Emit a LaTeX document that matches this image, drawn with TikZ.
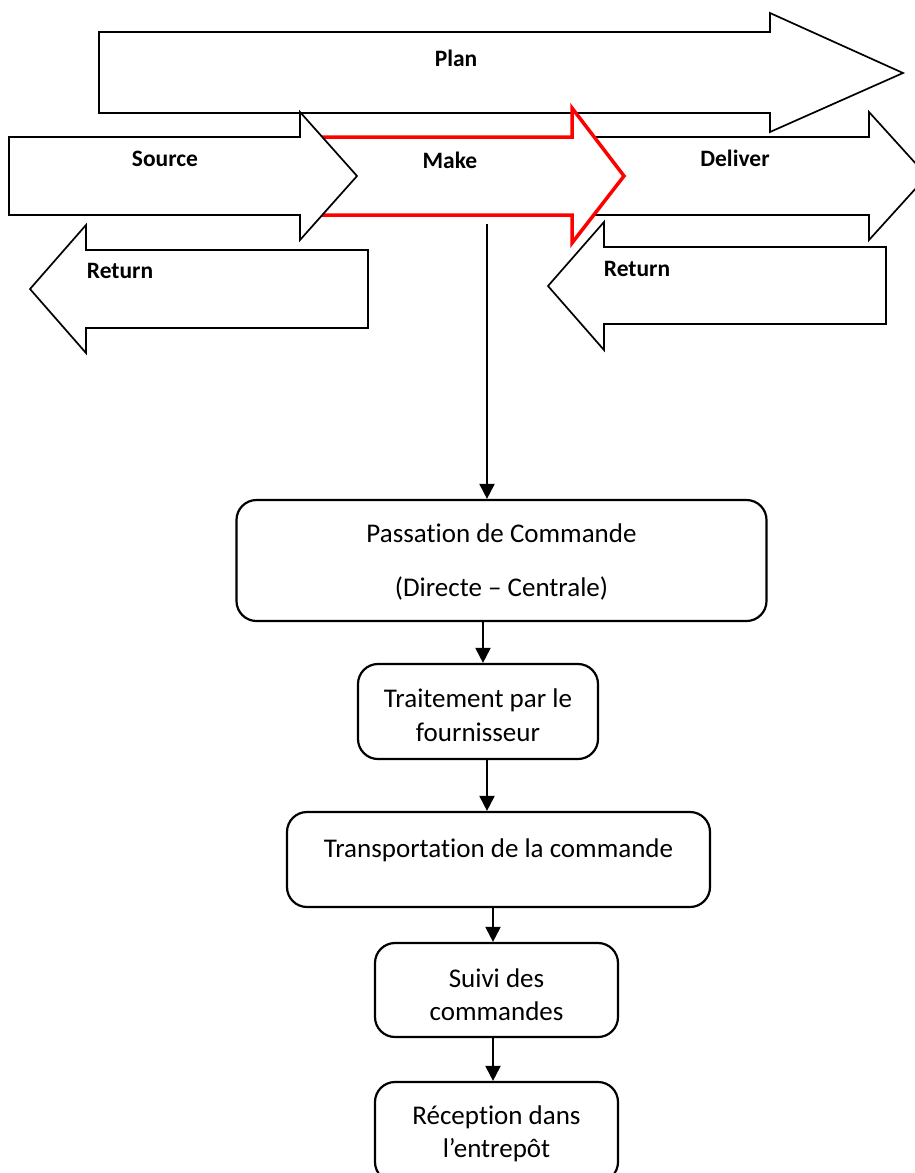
\documentclass[tikz,border=0pt]{standalone}
\usepackage{fontspec}
\setmainfont{Carlito}[Ligatures=NoCommon]
\usetikzlibrary{arrows.meta}
\begin{document}
\begin{tikzpicture}[x=1pt,y=-1pt,
  bigarrow/.style={draw=black, fill=white, line width=1.7pt, line join=miter},
  makearrow/.style={draw=red, fill=white, line width=3.5pt, line join=miter},
  arrowlabel/.style={font=\fontsize{23.5}{28}\selectfont\bfseries, anchor=base, inner sep=0pt},
  stepbox/.style={draw, line width=2.2pt, rounded corners=20pt, inner sep=0pt},
  boxtext/.style={font=\fontsize{27}{32}\selectfont, anchor=base, inner sep=0pt},
  flow/.style={line width=2pt, -{Triangle[width=15pt,length=15pt]}}]
\useasboundingbox (0,0) rectangle (915,1173);
\clip (0,0) rectangle (915,1173);

% SCOR process arrows
\draw[bigarrow] (99,32) -- (770,32) -- (770,13) -- (903,73) -- (770,132) -- (770,113) -- (99,113) -- cycle;
\node[arrowlabel] (plan) at (456,66) {Plan};

\draw[bigarrow] (590,137) -- (869,137) -- (869,112) -- (927,176) -- (869,240) -- (869,215) -- (590,215) -- cycle;
\node[arrowlabel] (deliver) at (735,166) {Deliver};

\draw[makearrow] (310,137) -- (572,137) -- (572,108) -- (624,176) -- (572,243) -- (572,215) -- (310,215) -- cycle;
\node[arrowlabel] (make) at (450,168) {Make};

\draw[bigarrow] (9,137) -- (300,137) -- (300,112) -- (357,176) -- (300,240) -- (300,215) -- (9,215) -- cycle;
\node[arrowlabel] (source) at (165,166) {Source};

\draw[bigarrow] (368,250) -- (86,250) -- (86,225) -- (30,289) -- (86,353) -- (86,328) -- (368,328) -- cycle;
\node[arrowlabel] (retl) at (120,278) {Return};

\draw[bigarrow] (886,247) -- (604,247) -- (604,222) -- (548,286) -- (604,350) -- (604,324) -- (886,324) -- cycle;
\node[arrowlabel] (retr) at (637,276) {Return};

% Ordering process boxes
\node[stepbox, minimum width=530pt, minimum height=121pt] (b1) at (501.5,560.5) {};
\node[boxtext] (t1a) at (501.5,542) {Passation de Commande};
\node[boxtext] (t1b) at (501.5,596) {(Directe -- Centrale)};

\node[stepbox, minimum width=240pt, minimum height=95pt] (b2) at (478,711.5) {};
\node[boxtext] (t2a) at (478,707) {Traitement par le};
\node[boxtext] (t2b) at (478,741) {fournisseur};

\node[stepbox, minimum width=423pt, minimum height=95pt] (b3) at (498.5,859.5) {};
\node[boxtext] (t3) at (498.5,857) {Transportation de la commande};

\node[stepbox, minimum width=243pt, minimum height=94pt] (b4) at (496.5,990) {};
\node[boxtext] (t4a) at (496.5,987) {Suivi des};
\node[boxtext] (t4b) at (496.5,1020) {commandes};

\node[stepbox, minimum width=243pt, minimum height=100pt] (b5) at (496.5,1132) {};
\node[boxtext] (t5a) at (496.5,1124) {Réception dans};
\node[boxtext] (t5b) at (496.5,1157) {l’entrepôt};

% Connectors
\coordinate (mk) at (487,224);
\draw[flow] (mk) -- (mk |- b1.north);
\draw[flow] ([xshift=-18.5pt]b1.south) -- ([xshift=-18.5pt]b1.south |- b2.north);
\draw[flow] ([xshift=9pt]b2.south) -- ([xshift=9pt]b2.south |- b3.north);
\draw[flow] ([xshift=-5.5pt]b3.south) -- ([xshift=-5.5pt]b3.south |- b4.north);
\draw[flow] ([xshift=-3.5pt]b4.south) -- ([xshift=-3.5pt]b4.south |- b5.north);
\end{tikzpicture}
\end{document}
